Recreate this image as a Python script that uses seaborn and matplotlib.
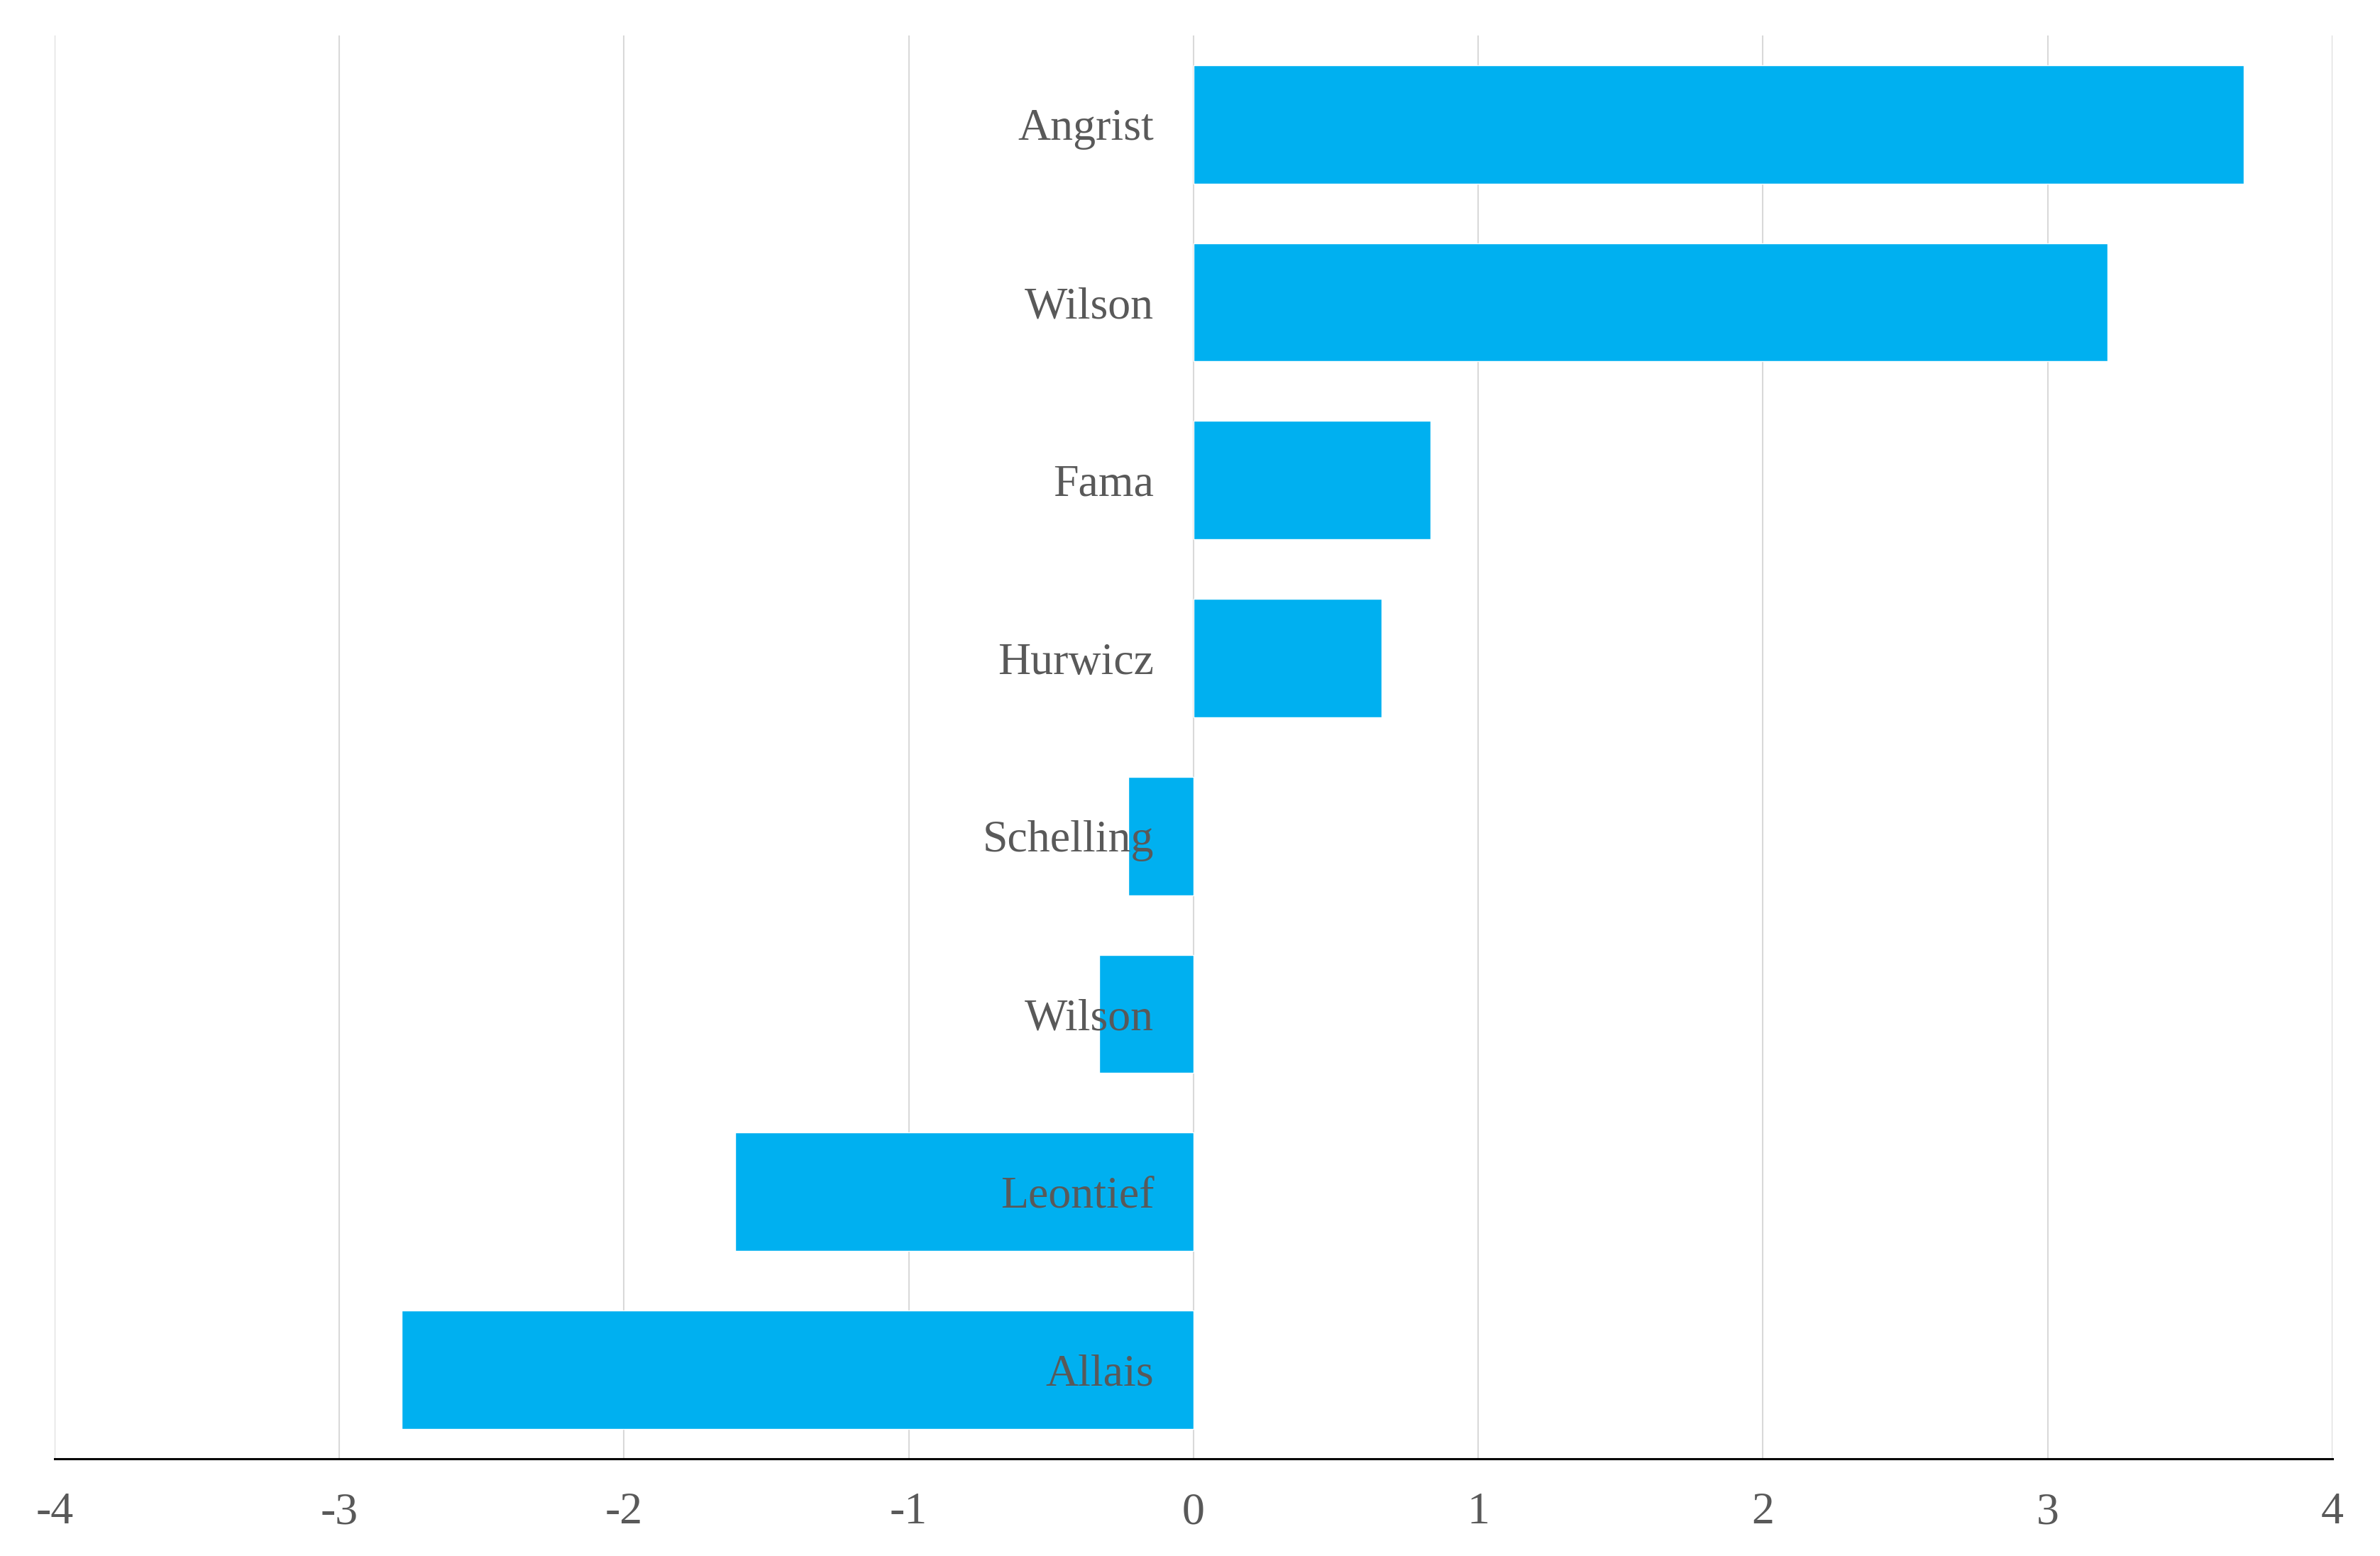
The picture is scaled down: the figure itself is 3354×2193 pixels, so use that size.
import numpy as np
import pandas as pd
import matplotlib
matplotlib.use("Agg")
import matplotlib.pyplot as plt
import seaborn as sns

# Data (top to bottom)
names = ["Angrist", "Wilson", "Fama", "Hurwicz", "Schelling", "Wilson", "Leontief", "Allais"]
values = [3.69, 3.21, 0.834, 0.662, -0.23, -0.33, -1.61, -2.78]
x_ticks = [-4, -3, -2, -1, 0, 1, 2, 3, 4]
x_tick_labels = ["-4", "-3", "-2", "-1", "0", "1", "2", "3", "4"]

BAR_COLOR = "#00B0F0"
TEXT_COLOR = "#595959"
GRID_COLOR = "#D9D9D9"

sns.set_theme(style="white")
plt.rcParams["font.family"] = ["Liberation Serif", "DejaVu Serif"]

df = pd.DataFrame({"pos": list(range(len(names))), "value": values})

fig = plt.figure(figsize=(33.55, 21.93), dpi=100)
ax = fig.add_axes([0.02295, 0.0625, 0.9567, 0.9147])

sns.barplot(data=df, x="value", y="pos", orient="h", order=list(range(len(names))),
            color=BAR_COLOR, saturation=1, width=0.665, ax=ax, zorder=2)

ax.set_xlim(-4, 4)
ax.set_xticks(x_ticks)
ax.set_xticklabels(x_tick_labels, fontsize=46, color=TEXT_COLOR)
ax.tick_params(axis="x", length=0, pad=34)
ax.set_yticks([])
ax.set_xlabel("")
ax.set_ylabel("")

ax.grid(axis="x", color=GRID_COLOR, linewidth=1.5, zorder=0)
ax.set_axisbelow(True)
for s in ["top", "left", "right"]:
    ax.spines[s].set_visible(False)
ax.spines["bottom"].set_color("black")
ax.spines["bottom"].set_linewidth(2.2)
ax.spines["bottom"].set_zorder(5)

for i, name in enumerate(names):
    ax.annotate(name, xy=(0, i), xytext=(-40, 0), textcoords="offset points",
                ha="right", va="center_baseline", fontsize=46, color=TEXT_COLOR,
                zorder=6)

fig.savefig("out.png", dpi=100, facecolor="white")
